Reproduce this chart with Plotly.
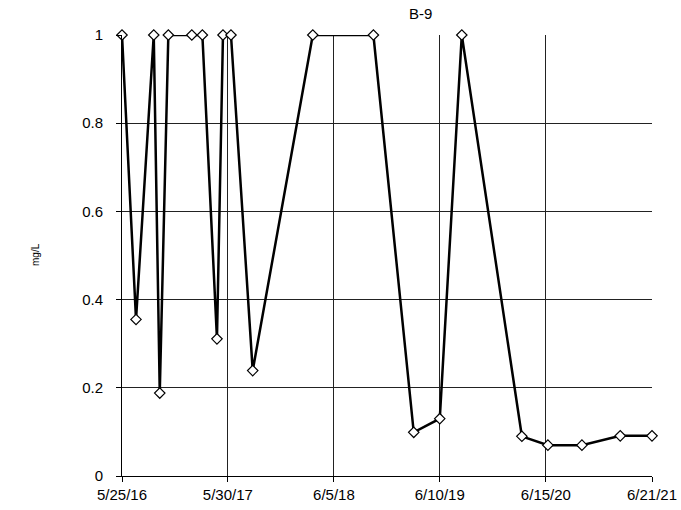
import plotly.graph_objects as go

dates = ["2016-05-25", "2016-07-13", "2016-09-13", "2016-10-04", "2016-11-03",
         "2017-01-24", "2017-03-02", "2017-04-22", "2017-05-13", "2017-06-10",
         "2017-08-25", "2018-03-23", "2018-10-21", "2019-03-11", "2019-06-10",
         "2019-08-26", "2020-03-23", "2020-06-22", "2020-10-19", "2021-03-02",
         "2021-06-21"]
values = [1, 0.355, 1, 0.188, 1,
          1, 1, 0.311, 1, 1,
          0.239, 1, 1, 0.099, 0.13,
          1, 0.09, 0.07, 0.07, 0.091,
          0.091]

x_tickvals = ["2016-05-25", "2017-05-30", "2018-06-05", "2019-06-10", "2020-06-15", "2021-06-21"]
x_ticktext = ["5/25/16", "5/30/17", "6/5/18", "6/10/19", "6/15/20", "6/21/21"]
y_tickvals = [0, 0.2, 0.4, 0.6, 0.8, 1]
y_ticktext = ["0", "0.2", "0.4", "0.6", "0.8", "1"]

fig = go.Figure()
fig.add_trace(go.Scatter(
    x=dates, y=values, mode="lines+markers",
    line=dict(color="black", width=2.5),
    marker=dict(symbol="diamond", size=8, color="white",
                line=dict(color="black", width=1.2)),
    cliponaxis=False, showlegend=False,
))

fig.update_layout(
    width=681, height=510,
    margin=dict(l=122, r=29, t=35, b=34, autoexpand=False),
    paper_bgcolor="white", plot_bgcolor="white",
    font=dict(family="Liberation Sans, Arial, sans-serif", size=15, color="black"),
    xaxis=dict(
        type="date", range=["2016-05-25", "2021-06-21"],
        tickvals=x_tickvals, ticktext=x_ticktext,
        showgrid=True, gridcolor="#222", gridwidth=1,
        showline=True, linecolor="black", linewidth=1,
        ticks="outside", ticklen=5, tickcolor="black",
        zeroline=False, mirror=False, automargin=False,
    ),
    yaxis=dict(
        range=[0, 1], tickvals=y_tickvals, ticktext=y_ticktext,
        showgrid=True, gridcolor="#222", gridwidth=1,
        showline=True, linecolor="black", linewidth=1,
        ticks="outside", ticklen=5, tickcolor="black",
        ticklabelstandoff=10,
        zeroline=False, automargin=False,
    ),
    annotations=[
        dict(text="B-9", xref="paper", yref="paper",
             x=(420 - 122) / 530, y=1 + 21 / 441, showarrow=False,
             font=dict(size=15), xanchor="center", yanchor="middle"),
        dict(text="mg/L", xref="paper", yref="paper",
             x=(35 - 122) / 530, y=(476 - 255) / 441, showarrow=False,
             textangle=-90, font=dict(size=10), xanchor="center", yanchor="middle"),
    ],
)

fig.write_html("out.html", config={"displayModeBar": False},
               post_script="document.body.style.margin='0';document.body.style.padding='0';")
